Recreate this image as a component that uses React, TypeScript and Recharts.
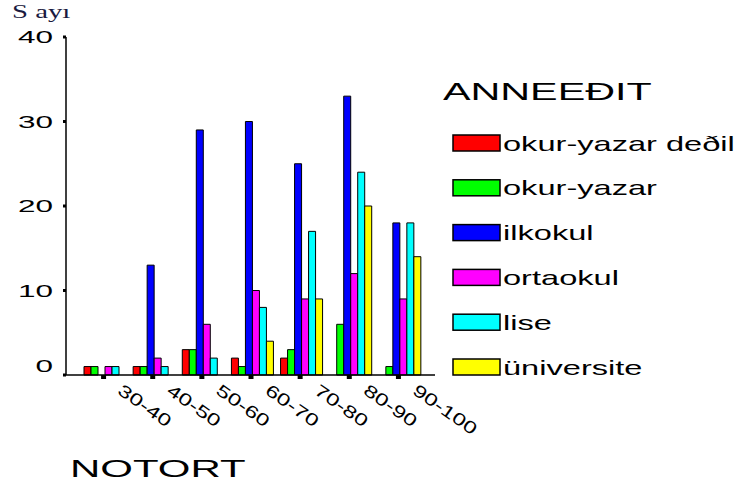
import React from 'react';
import { BarChart, Bar, XAxis, YAxis, Legend } from 'recharts';

const categories = ['30-40', '40-50', '50-60', '60-70', '70-80', '80-90', '90-100'];
const okurYazarDegil = [1, 1, 3, 2, 2, 0, 0];
const okurYazar = [1, 1, 3, 1, 3, 6, 1];
const ilkokul = [0, 13, 29, 30, 25, 33, 18];
const ortaokul = [1, 2, 6, 10, 9, 12, 9];
const lise = [1, 1, 2, 8, 17, 24, 18];
const universite = [0, 0, 0, 4, 9, 20, 14];
const yTicks = [0, 10, 20, 30, 40];

const series = [
  { key: 'okurYazarDegil', name: 'okur-yazar deðil', color: '#ff0000', values: okurYazarDegil },
  { key: 'okurYazar', name: 'okur-yazar', color: '#00ff00', values: okurYazar },
  { key: 'ilkokul', name: 'ilkokul', color: '#0000ff', values: ilkokul },
  { key: 'ortaokul', name: 'ortaokul', color: '#ff00ff', values: ortaokul },
  { key: 'lise', name: 'lise', color: '#00ffff', values: lise },
  { key: 'universite', name: 'üniversite', color: '#ffff00', values: universite },
];
const seriesOrder = series.map((s) => s.name);

const data = categories.map((cat, i) => {
  const row: Record<string, string | number> = { cat };
  series.forEach((s) => {
    row[s.key] = s.values[i];
  });
  return row;
});

const SANS = '"Liberation Sans", Arial, sans-serif';

const XTick = (props: any) => {
  const { x, y, payload } = props;
  return (
    <g transform={`translate(${x + 13},${y + 14}) rotate(35) scale(1.4,1)`}>
      <text x={0} y={0} fontSize={17} fontFamily={SANS} fill="#000" textAnchor="start">
        {payload.value}
      </text>
    </g>
  );
};

const YTick = (props: any) => {
  const { x, y, payload } = props;
  const lift = payload.value === 0 ? -9 : 0;
  return (
    <g transform={`translate(${x},${y + lift}) scale(1.85,1)`}>
      <text x={0} y={0} dy={6} fontSize={17} fontFamily={SANS} fill="#000" textAnchor="end">
        {payload.value}
      </text>
    </g>
  );
};

const LegendBox = (props: any) => {
  const items = [...(props.payload || [])].sort(
    (a: any, b: any) => seriesOrder.indexOf(a.value) - seriesOrder.indexOf(b.value)
  );
  return (
    <svg width={300} height={320} style={{ display: 'block' }}>
      <g transform="translate(3,30) scale(1.72,1)">
        <text fontSize={24} fontFamily={SANS} fill="#000">ANNEEÐIT</text>
      </g>
      {items.map((entry: any, i: number) => (
        <g key={entry.value}>
          <rect x={13} y={65 + i * 44.8} width={47} height={16} fill={entry.color} stroke="#000" strokeWidth={1.5} />
          <g transform={`translate(63,${80.5 + i * 44.8}) scale(1.63,1)`}>
            <text fontSize={20} fontFamily={SANS} fill="#000">{entry.value}</text>
          </g>
        </g>
      ))}
    </svg>
  );
};

export default function App() {
  return (
    <div style={{ position: 'absolute', left: 0, top: 0, background: '#fff' }}>
      <BarChart
        width={741}
        height={485}
        data={data}
        margin={{ top: 37, right: 306, bottom: 0, left: 0 }}
        barCategoryGap={5}
        barGap={0}
      >
        <XAxis
          dataKey="cat"
          height={110}
          padding={{ left: 13, right: 12 }}
          axisLine={{ stroke: '#000', strokeWidth: 1.5 }}
          tickLine={{ stroke: '#000', strokeWidth: 5 }}
          tickSize={4}
          tickMargin={0}
          interval={0}
          tick={<XTick />}
          label={(p: any) => {
            const vb = p.viewBox || { x: 66, y: 375 };
            return (
              <g transform={`translate(${vb.x + 4},${vb.y + 102}) scale(1.75,1)`}>
                <text fontSize={24} fontFamily={SANS} fill="#000">NOTORT</text>
              </g>
            );
          }}
        />
        <XAxis
          xAxisId="top"
          orientation="top"
          dataKey="cat"
          height={0}
          tick={false}
          tickLine={false}
          axisLine={{ stroke: '#000', strokeWidth: 1.5 }}
        />
        <YAxis
          width={66}
          domain={[0, 40]}
          ticks={yTicks}
          interval={0}
          axisLine={{ stroke: '#000', strokeWidth: 1.5 }}
          tickLine={{ stroke: '#000', strokeWidth: 3 }}
          tickSize={3}
          tickMargin={10}
          tick={<YTick />}
          label={(p: any) => {
            const vb = p.viewBox || { x: 0, y: 37 };
            return (
              <g transform={`translate(${vb.x + 12},${vb.y - 19}) scale(1.6,1)`}>
                <text fontSize={18} fontFamily='"Liberation Serif", "Times New Roman", serif' fill="#1a1a40">S ayı</text>
              </g>
            );
          }}
        />
        <YAxis
          yAxisId="right"
          orientation="right"
          width={0}
          domain={[0, 40]}
          tick={false}
          tickLine={false}
          axisLine={{ stroke: '#000', strokeWidth: 1.5 }}
        />
        <Legend
          layout="vertical"
          align="center"
          verticalAlign="middle"
          content={<LegendBox />}
          wrapperStyle={{ left: 440, top: 70, width: 301, height: 320 }}
        />
        {series.map((s) => (
          <Bar
            key={s.key}
            dataKey={s.key}
            name={s.name}
            fill={s.color}
            stroke="#000"
            strokeWidth={1}
            isAnimationActive={false}
          />
        ))}
      </BarChart>
    </div>
  );
}
